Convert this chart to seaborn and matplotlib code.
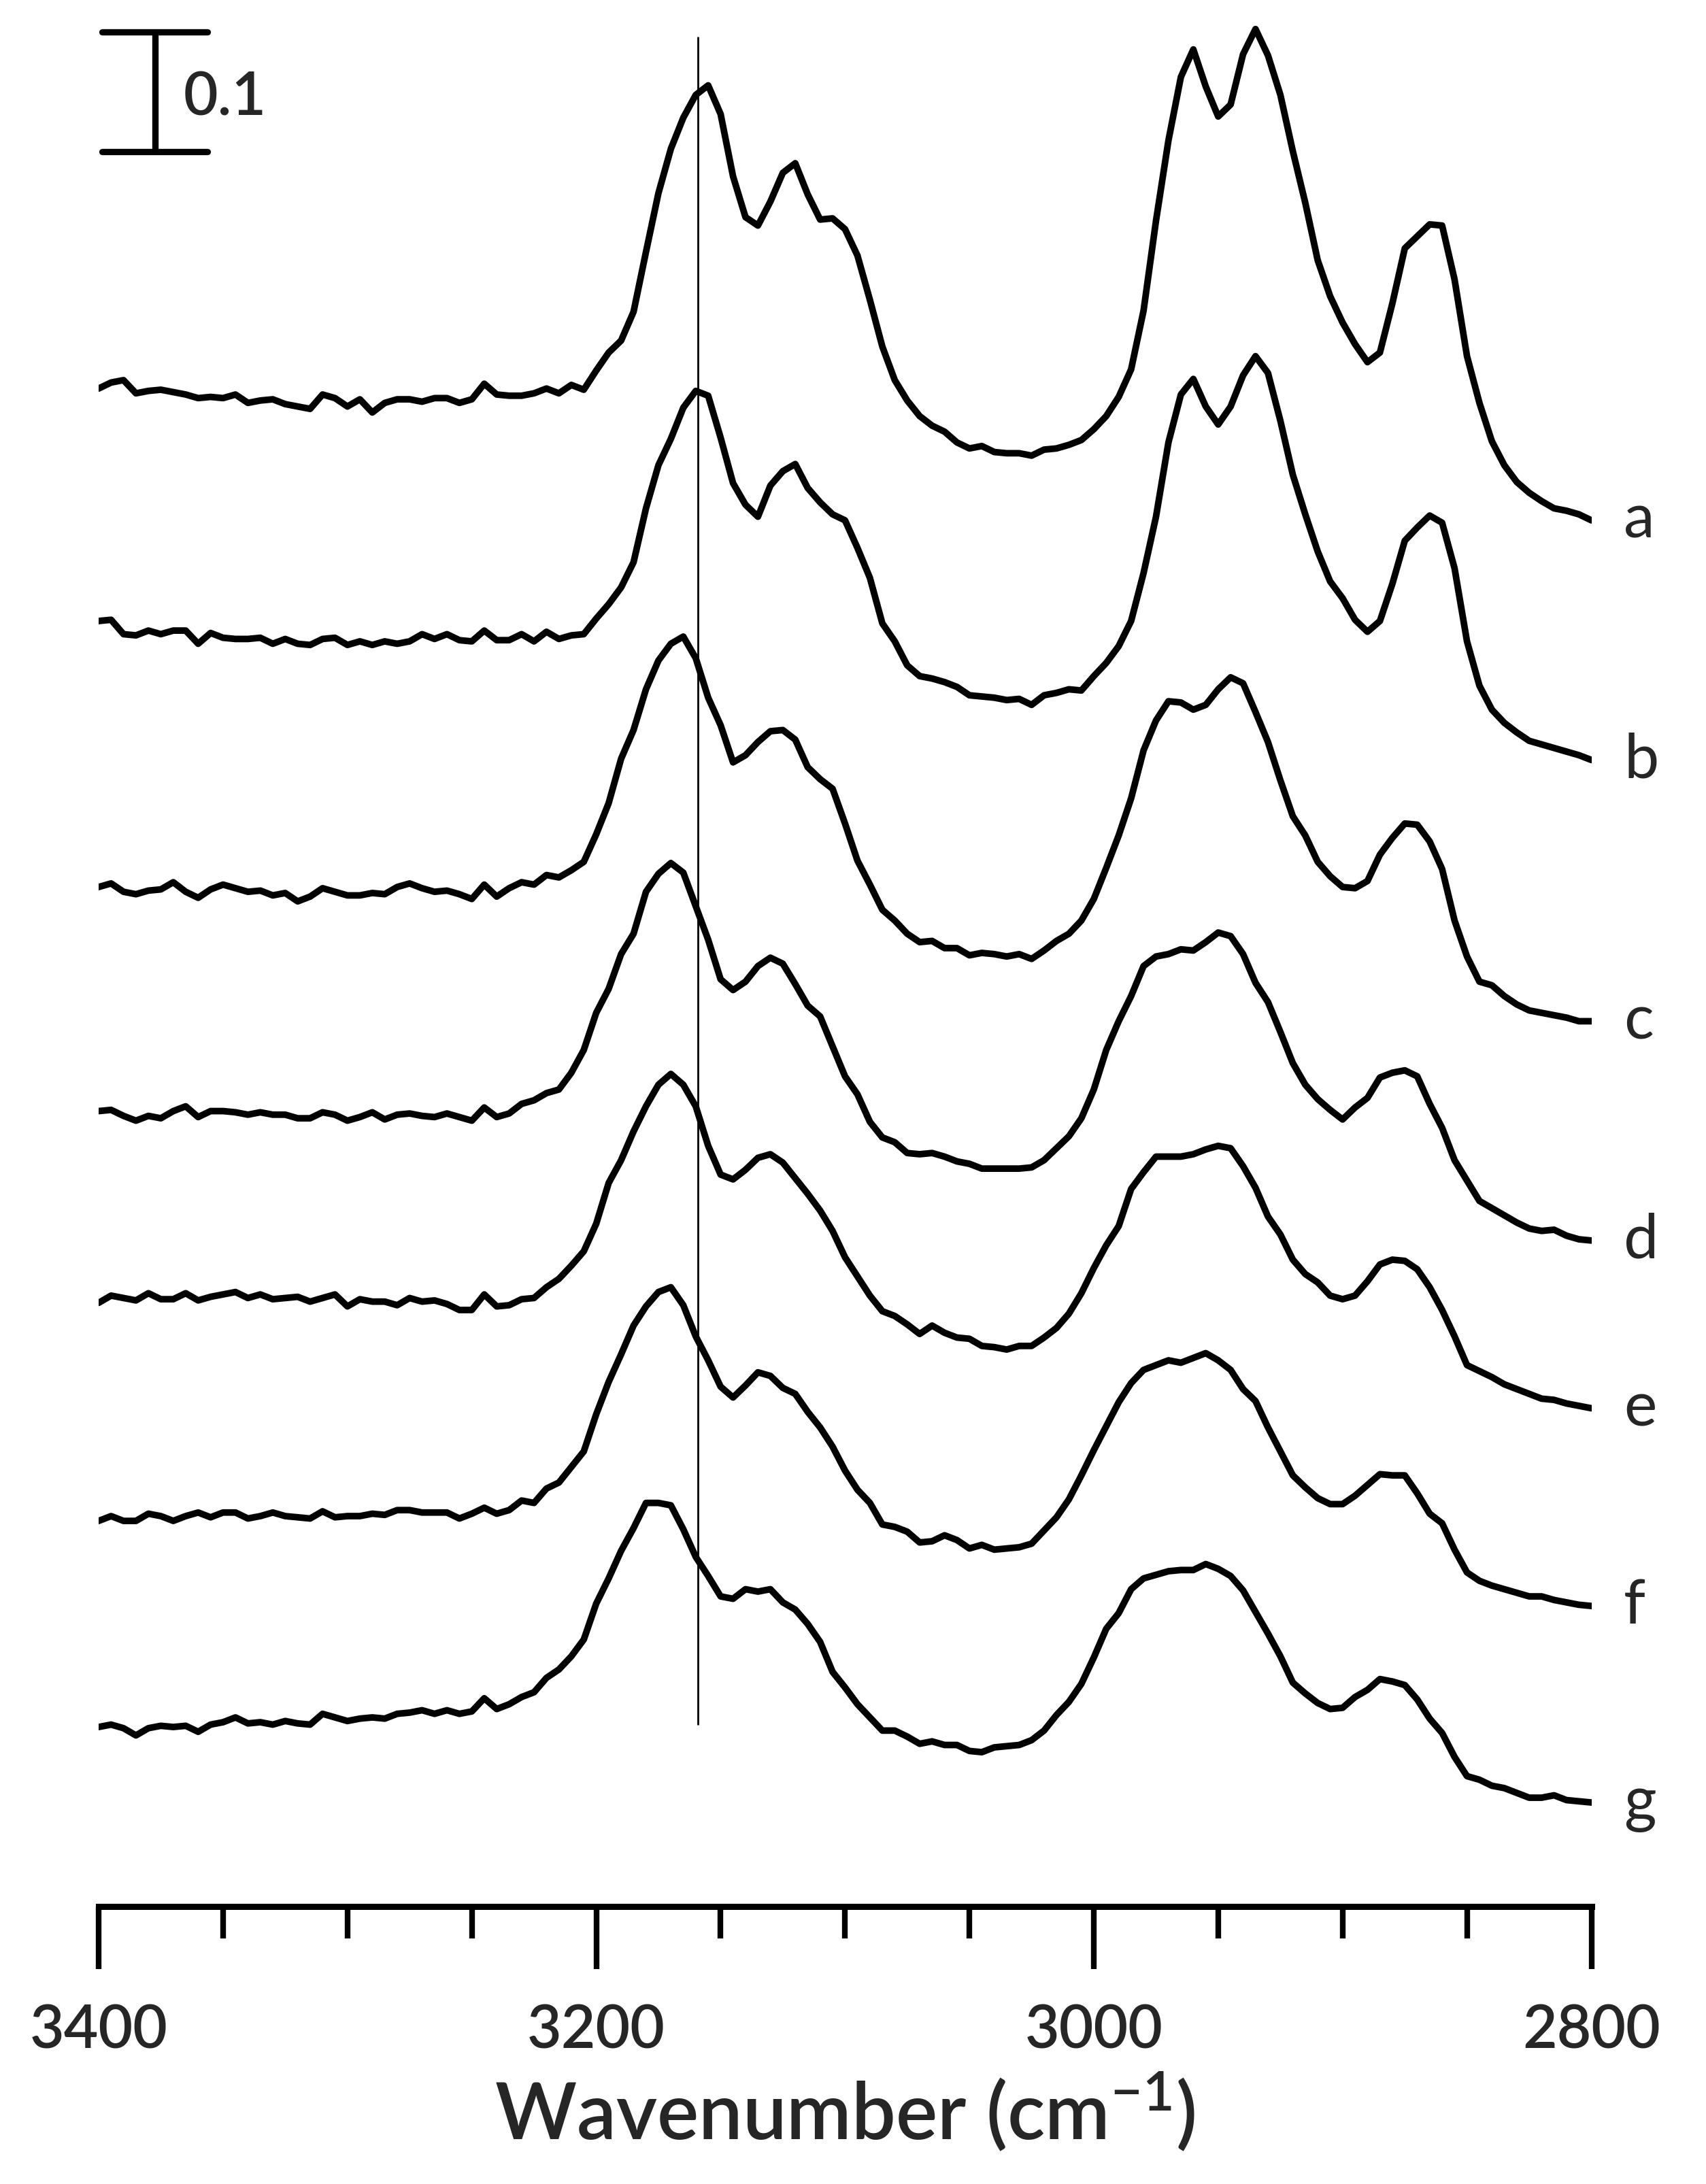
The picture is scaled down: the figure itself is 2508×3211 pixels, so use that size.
import numpy as np
import pandas as pd
import matplotlib
matplotlib.use("Agg")
import matplotlib.pyplot as plt
from matplotlib.ticker import MultipleLocator
import seaborn as sns

sns.set_style("white")
plt.rcParams["font.family"] = ["Lato", "DejaVu Sans"]
plt.rcParams["mathtext.fontset"] = "custom"
plt.rcParams["mathtext.rm"] = "Lato"
plt.rcParams["mathtext.default"] = "regular"

# wavenumber grid, 3400 -> 2800 cm-1 every 5 cm-1
WAVENUMBER = np.arange(3400, 2799, -5)

# absorbance of each spectrum in mAU, relative to its own start at 3400 cm-1
SPEC_A = [0, 5, 7, -4, -2, -1, -3, -5, -8, -7,
          -8, -5, -12, -10, -9, -13, -15, -17, -5, -8,
          -15, -9, -20, -12, -9, -9, -11, -8, -8, -12,
          -9, 4, -5, -6, -6, -4, 0, -4, 3, -1,
          15, 30, 40, 64, 114, 163, 200, 226, 245, 253,
          229, 177, 143, 136, 156, 180, 188, 162, 141, 142,
          133, 111, 74, 35, 7, -10, -23, -31, -36, -45,
          -50, -48, -53, -54, -54, -56, -51, -50, -47, -43,
          -34, -23, -7, 16, 65, 140, 207, 260, 283, 252,
          227, 237, 279, 300, 278, 245, 198, 155, 107, 77,
          55, 37, 22, 30, 71, 117, 127, 137, 136, 91,
          27, -12, -44, -64, -78, -87, -94, -100, -102, -105,
          -110]
SPEC_B = [0, 1, -11, -12, -8, -11, -8, -8, -19, -10,
          -14, -15, -15, -14, -19, -15, -19, -20, -15, -14,
          -20, -17, -20, -17, -19, -17, -11, -15, -11, -16,
          -17, -8, -16, -16, -11, -17, -9, -15, -12, -11,
          2, 14, 28, 49, 94, 130, 152, 178, 192, 188,
          153, 115, 97, 87, 113, 125, 131, 111, 99, 89,
          84, 61, 36, -2, -17, -37, -46, -48, -51, -55,
          -62, -63, -64, -66, -65, -70, -62, -60, -57, -58,
          -46, -35, -21, 0, 40, 87, 149, 189, 202, 179,
          164, 179, 205, 221, 207, 167, 122, 89, 58, 33,
          19, 1, -9, 0, 31, 67, 78, 88, 82, 44,
          -17, -54, -74, -85, -93, -100, -103, -106, -109, -112,
          -116]
SPEC_C = [0, 3, -4, -6, -3, -2, 4, -4, -9, -2,
          2, -1, -4, -3, -7, -5, -12, -8, -1, -4,
          -7, -7, -5, -6, 0, 3, -1, -4, -3, -6,
          -10, 2, -8, -1, 4, 2, 10, 8, 14, 21,
          44, 70, 107, 131, 165, 189, 203, 209, 191, 158,
          135, 104, 110, 121, 130, 131, 123, 100, 90, 82,
          53, 22, 2, -19, -28, -39, -46, -45, -51, -51,
          -57, -55, -56, -58, -56, -60, -53, -45, -39, -28,
          -10, 16, 43, 74, 114, 139, 155, 154, 148, 152,
          165, 175, 170, 146, 121, 89, 59, 43, 21, 9,
          0, -1, 5, 27, 41, 53, 52, 38, 15, -28,
          -58, -79, -82, -91, -98, -103, -105, -107, -109, -112,
          -112]
SPEC_D = [0, 1, -4, -8, -4, -6, 0, 4, -5, 0,
          0, -1, -3, -1, -3, -3, -6, -6, -1, -3,
          -8, -5, -1, -7, -3, -2, -4, -5, -2, -5,
          -8, 3, -5, -2, 6, 9, 15, 18, 32, 51,
          82, 102, 131, 148, 183, 198, 207, 199, 171, 143,
          110, 101, 108, 121, 128, 123, 106, 88, 79, 54,
          29, 14, -9, -22, -26, -35, -36, -35, -38, -42,
          -44, -48, -48, -48, -48, -47, -41, -31, -21, -6,
          18, 51, 75, 96, 121, 129, 131, 135, 134, 141,
          149, 146, 131, 107, 91, 66, 40, 22, 10, 1,
          -7, 3, 11, 28, 32, 34, 29, 6, -14, -41,
          -58, -75, -81, -87, -93, -98, -100, -99, -104, -107,
          -108]
SPEC_E = [0, 6, 4, 2, 8, 3, 3, 8, 2, 5,
          7, 9, 4, 7, 3, 4, 5, 1, 4, 7,
          -3, 3, 1, 1, -2, 4, 1, 2, -1, -6,
          -6, 7, -3, -2, 3, 4, 13, 20, 31, 43,
          66, 100, 119, 143, 164, 182, 191, 182, 164, 131,
          107, 103, 111, 121, 124, 117, 104, 91, 77, 60,
          38, 22, 6, -7, -11, -18, -26, -19, -25, -29,
          -30, -36, -37, -39, -36, -36, -29, -21, -9, 8,
          29, 48, 64, 95, 109, 122, 122, 122, 124, 128,
          131, 129, 114, 96, 72, 57, 36, 24, 17, 6,
          3, 6, 18, 32, 36, 35, 28, 13, -6, -28,
          -52, -57, -62, -68, -72, -76, -80, -81, -84, -86,
          -88]
SPEC_F = [0, 4, 0, 0, 6, 4, 0, 4, 7, 3,
          7, 7, 2, 4, 7, 4, 3, 2, 8, 3,
          4, 4, 6, 5, 9, 9, 7, 7, 7, 2,
          6, 11, 6, 9, 17, 15, 27, 32, 45, 58,
          89, 116, 139, 163, 179, 191, 195, 180, 154, 134,
          112, 103, 113, 124, 121, 111, 106, 91, 78, 62,
          42, 26, 15, -3, -5, -9, -18, -17, -12, -16,
          -23, -20, -24, -23, -22, -19, -8, 3, 18, 38,
          59, 79, 99, 115, 126, 130, 134, 132, 136, 140,
          134, 126, 110, 100, 78, 58, 38, 28, 19, 14,
          14, 21, 30, 39, 38, 38, 23, 6, -2, -24,
          -43, -50, -54, -57, -60, -63, -63, -66, -68, -70,
          -71]
SPEC_G = [0, 2, -1, -7, -1, 1, 0, 1, -4, 2,
          4, 8, 3, 4, 2, 5, 3, 2, 11, 8,
          5, 7, 8, 7, 11, 12, 14, 11, 14, 11,
          13, 24, 15, 19, 25, 29, 41, 48, 59, 73,
          103, 124, 147, 166, 187, 187, 185, 165, 142, 126,
          109, 107, 115, 113, 115, 104, 98, 86, 71, 46,
          33, 19, 8, -3, -3, -8, -14, -12, -15, -15,
          -20, -21, -17, -16, -15, -11, -3, 10, 21, 36,
          58, 82, 95, 115, 124, 127, 130, 131, 131, 136,
          132, 126, 114, 96, 78, 59, 37, 28, 20, 15,
          16, 25, 31, 40, 38, 35, 23, 7, -5, -25,
          -41, -44, -49, -51, -55, -59, -59, -57, -61, -62,
          -63]

LABELS = ["a", "b", "c", "d", "e", "f", "g"]
SPECTRA = [SPEC_A, SPEC_B, SPEC_C, SPEC_D, SPEC_E, SPEC_F, SPEC_G]
# vertical stacking offsets (absorbance)
OFFSETS = [1.117, 0.923, 0.701, 0.514, 0.354, 0.172, 0.0]
REF_LINE = 3159  # cm-1
SCALE_BAR = 0.1  # absorbance

rows = []
for lab, spec, off in zip(LABELS, SPECTRA, OFFSETS):
    for wn, v in zip(WAVENUMBER, spec):
        rows.append({"sample": lab, "wavenumber": wn, "absorbance": v / 1000 + off})
df = pd.DataFrame(rows)

fig = plt.figure(figsize=(25.08, 32.12), dpi=100)
ax = fig.add_axes([0.05782, 0.12702, 0.875, 0.87298])

sns.lineplot(data=df, x="wavenumber", y="absorbance", units="sample",
             estimator=None, color="black", lw=7.0, ax=ax, legend=False,
             solid_joinstyle="round", solid_capstyle="round")

ax.set_xlim(3400, 2800)
ax.set_ylim(-0.1498, 1.4418)

# thin reference line through the spectra
ax.vlines(REF_LINE, 0.002, 1.4106, color="black", lw=2.0)

# 0.1 absorbance scale bar
top, bot = 1.4148, 1.4148 - SCALE_BAR
ax.plot([3377.4, 3377.4], [bot, top], color="black", lw=6.7, solid_capstyle="butt")
for yy in (top, bot):
    ax.plot([3398.7, 3356.2], [yy, yy], color="black", lw=6.7, solid_capstyle="round")
ax.text(3366, 1.3458, "0.1", fontsize=63, fontweight="semibold",
        ha="left", va="baseline")

# spectrum letters at the right end
for lab, spec, off in zip(LABELS, SPECTRA, OFFSETS):
    ax.text(2787, spec[-1] / 1000 + off - 0.014, lab, fontsize=66,
            ha="left", va="baseline", clip_on=False)

for side in ["left", "right", "top"]:
    ax.spines[side].set_visible(False)
ax.spines["bottom"].set_linewidth(6.5)
ax.spines["bottom"].set_color("black")
ax.set_yticks([])
ax.set_ylabel("")

ax.xaxis.set_major_locator(MultipleLocator(200))
ax.xaxis.set_minor_locator(MultipleLocator(50))
ax.tick_params(axis="x", which="major", direction="out", length=66, width=6.0,
               pad=36, labelsize=63, color="black", bottom=True)
ax.tick_params(axis="x", which="minor", direction="out", length=34, width=6.0,
               color="black", bottom=True)
for t in ax.get_xticklabels():
    t.set_fontweight("semibold")

ax.set_xlabel(r"Wavenumber (cm$^{-1}$)", fontsize=83, fontweight="semibold")
ax.xaxis.set_label_coords(0.5, -0.1216)
ax.xaxis.label.set_va("baseline")

fig.savefig("out.png", dpi=100, facecolor="white")
